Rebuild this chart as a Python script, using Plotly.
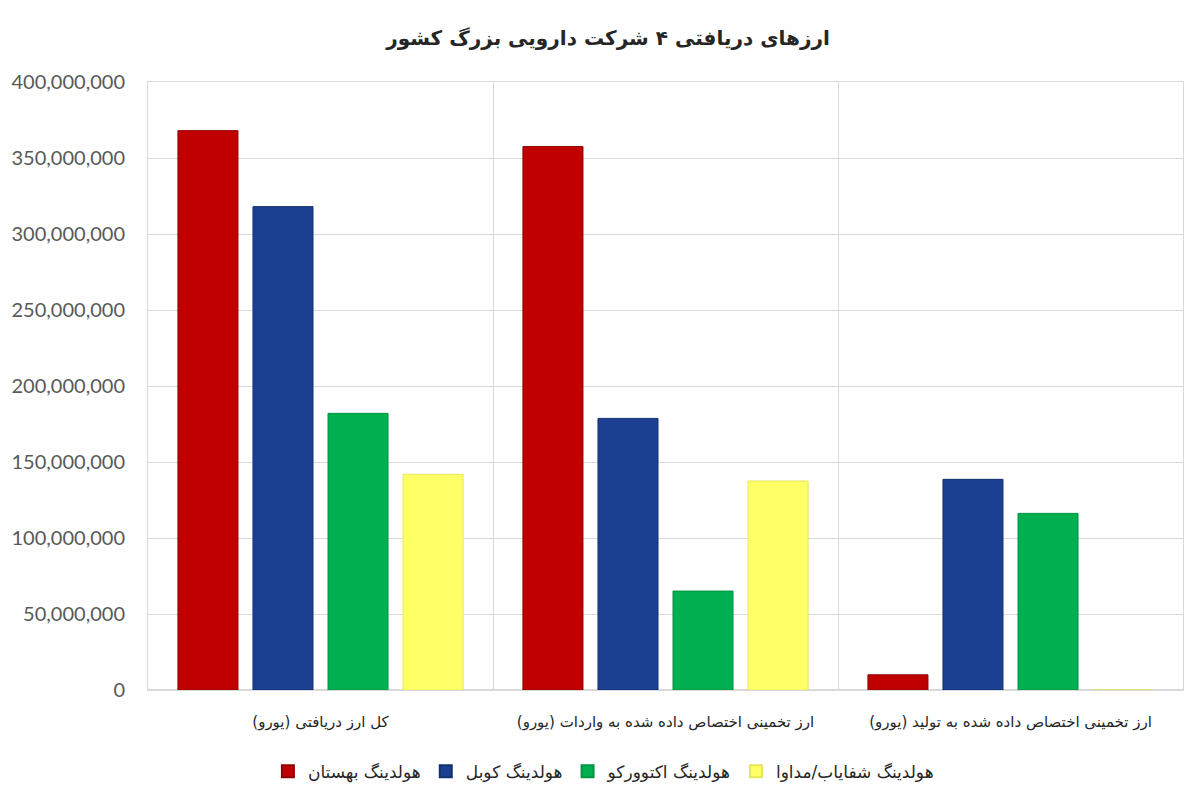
import plotly.graph_objects as go

RLM = "\u200f"

categories = [
    "کل ارز دریافتی (یورو)",
    "ارز تخمینی اختصاص داده شده به واردات (یورو)",
    "ارز تخمینی اختصاص داده شده به تولید (یورو)",
]
series_names = [
    "هولدینگ بهستان",
    "هولدینگ کوبل",
    "هولدینگ اکتوورکو",
    "هولدینگ شفایاب/مداوا",
]
behestan = [368_000_000, 357_500_000, 10_000_000]
cobel = [318_000_000, 178_700_000, 138_600_000]
actoverco = [182_000_000, 65_100_000, 116_200_000]
shafayab = [141_900_000, 137_500_000, 0]
series_values = [behestan, cobel, actoverco, shafayab]

colors = ["#C00000", "#1B3F91", "#00B050", "#FFFF66"]
edge_colors = ["#8E0000", "#14306E", "#009443", "#E6E65A"]

title_text = "ارزهای دریافتی ۴ شرکت دارویی بزرگ کشور"

x_labels = [RLM + c + RLM for c in categories]

fig = go.Figure()
for name, vals, col, ec in zip(series_names, series_values, colors, edge_colors):
    fig.add_trace(go.Bar(
        x=x_labels,
        y=vals,
        name=RLM + name + RLM,
        marker=dict(color=col, line=dict(color=ec, width=1)),
    ))

fig.update_layout(
    width=1200,
    height=800,
    paper_bgcolor="white",
    plot_bgcolor="white",
    barmode="group",
    bargap=0.13,
    bargroupgap=0.2,
    margin=dict(l=140, r=25, t=74, b=118, autoexpand=False),
    title=dict(
        text="<b>" + RLM + title_text + RLM + "</b>",
        x=0.5, xanchor="center",
        y=1 - 30 / 800, yanchor="middle",
        font=dict(family="DejaVu Sans", size=20, color="#262626"),
    ),
    legend=dict(
        orientation="h",
        x=0.44, xanchor="center",
        y=-0.1345, yanchor="middle",
        font=dict(family="DejaVu Sans", size=17, color="#262626"),
        itemsizing="constant",
        traceorder="normal",
    ),
    showlegend=True,
)

fig.update_xaxes(
    type="category",
    tickson="boundaries",
    showgrid=True,
    gridcolor="#D9D9D9",
    gridwidth=1,
    showline=True,
    linecolor="#D9D9D9",
    mirror=True,
    ticks="",
    automargin=False,
    ticklabelstandoff=18,
    tickfont=dict(family="DejaVu Sans", size=15, color="#262626"),
)
fig.update_yaxes(
    range=[0, 400_000_000],
    dtick=50_000_000,
    tickformat=",d",
    showgrid=True,
    gridcolor="#D9D9D9",
    gridwidth=1,
    zeroline=True,
    zerolinecolor="#D9D9D9",
    showline=True,
    linecolor="#D9D9D9",
    mirror=True,
    ticks="",
    automargin=False,
    ticklabelstandoff=18,
    tickfont=dict(family="Lato", size=20, color="#595959"),
)

fig.write_html("out.html")
